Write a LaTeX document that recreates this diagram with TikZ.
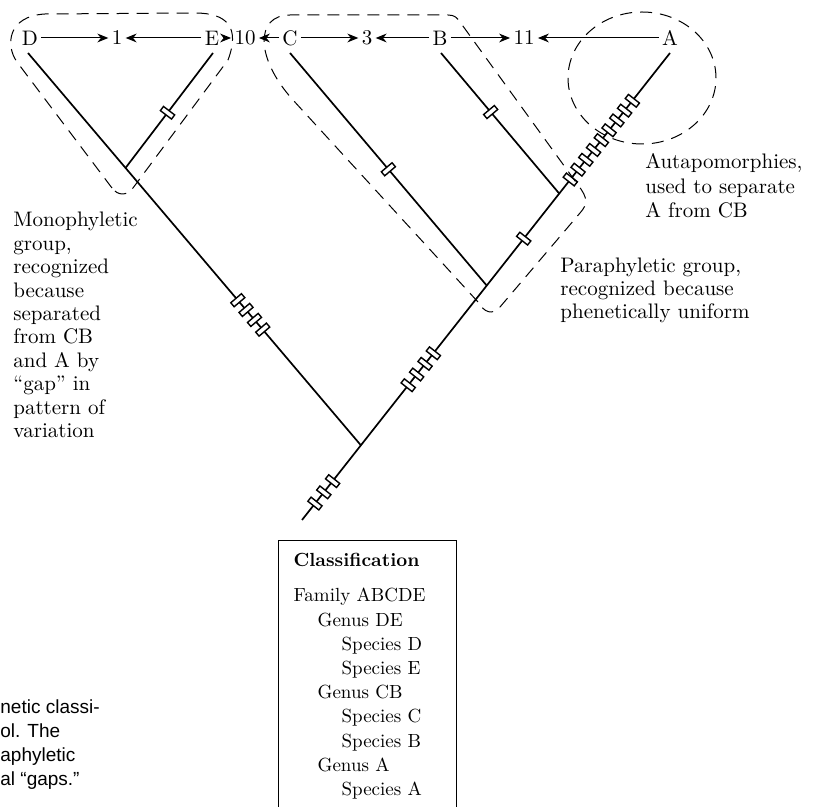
\documentclass[tikz,border=0pt]{standalone}
\usepackage{fontspec}
\newfontfamily\captionfont{Liberation Sans}
\usetikzlibrary{arrows.meta,calc}
\tikzset{
    taxon/.style={
           inner sep=1.5pt,
           font=\fontsize{10.5}{12}\selectfont,
           },
    branch/.style={
           line width=0.85pt,
           },
    apomark/.style={
           rectangle,
           draw, fill=white,
           line width=0.7pt,
           minimum width=2.6pt,
           minimum height=7pt,
           inner sep=0pt,
           sloped,
           },
    grouping/.style={
           dash pattern=on 6pt off 4pt,
           line width=0.5pt,
           },
    note/.style={
           align=left,
           anchor=north west,
           inner sep=0pt,
           font=\fontsize{10.5}{11.7}\selectfont,
           },
}

\begin{document}
\begin{tikzpicture}
[
x=0.5pt, y=-0.5pt,
>={Stealth[length=5.5pt,width=4.4pt]}
]
 \useasboundingbox (0,0) rectangle (815,807);

 % taxa and character states along the top
 \node[taxon] (lD)  at (30,38)  {D};
 \node[taxon] (l1)  at (117,38) {1};
 \node[taxon] (lE)  at (212,38) {E};
 \node[taxon] (l10) at (245,38) {10};
 \node[taxon] (lC)  at (290,38) {C};
 \node[taxon] (l3)  at (367,38) {3};
 \node[taxon] (lB)  at (440,38) {B};
 \node[taxon] (l11) at (524,38) {11};
 \node[taxon] (lA)  at (670,38) {A};

 \path[->, line width=0.5pt]
 (lD) edge (l1)
 (lE) edge (l1)
 (lE) edge (l10)
 (lC) edge (l10)
 (lC) edge (l3)
 (lB) edge (l3)
 (lB) edge (l11)
 (lA) edge (l11)
 ;

 % tips, root and junctions of the tree
 \coordinate (root) at (302,520);
 \coordinate (tA) at (670,53);
 \coordinate (tD) at (28,53);
 \coordinate (tE) at (213,53);
 \coordinate (tC) at (290,53);
 \coordinate (tB) at (441,53);
 \coordinate (jD) at ($(root)!0.16!(tA)$);
 \coordinate (jC) at ($(root)!0.502!(tA)$);
 \coordinate (jB) at ($(root)!0.699!(tA)$);
 \coordinate (jE) at ($(tD)!0.293!(jD)$);

 \draw[branch] (root) -- (tA);
 \draw[branch] (jD) -- (tD);
 \draw[branch] (jE) -- (tE);
 \draw[branch] (jC) -- (tC);
 \draw[branch] (jB) -- (tB);

 % character state changes
 \foreach \p [count=\i] in {0.22,0.37,0.52}
   \path (root) -- (jD) node[apomark, pos=\p] (mR\i) {};
 \foreach \p [count=\i] in {0.376,0.443,0.51,0.576}
   \path (jD) -- (jC) node[apomark, pos=\p] (mDC\i) {};
 \foreach \p [count=\i] in {0.477,0.512,0.548,0.583}
   \path (jE) -- (jD) node[apomark, pos=\p] (mD\i) {};
 \foreach \p [count=\i] in {0.10,0.17,0.24,0.31,0.38,0.45,0.52,0.59,0.66}
   \path (jB) -- (tA) node[apomark, pos=\p] (mA\i) {};
 \path (jC) -- (jB) node[apomark, pos=0.51] (mCB) {};
 \path (tE) -- (jE) node[apomark, pos=0.52] (mE) {};
 \path (tC) -- (jC) node[apomark, pos=0.50] (mC) {};
 \path (tB) -- (jB) node[apomark, pos=0.42] (mB) {};

 % dashed groups
 \draw[grouping] (112,188) -- (17,62)
   .. controls (5,45) and (8,16) .. (45,14) -- (195,13)
   .. controls (228,13) and (240,28) .. (228,60) -- (133,188)
   .. controls (127,196) and (118,196) .. (112,188) -- cycle;
 \draw[grouping] (478,302) -- (293,100)
   .. controls (255,58) and (255,15) .. (290,15) -- (448,15)
   .. controls (455,15) and (457,18) .. (460,22) -- (578,185)
   .. controls (588,198) and (588,204) .. (580,213) -- (500,307)
   .. controls (492,316) and (484,312) .. (478,302) -- cycle;
 \draw[grouping] (642,78) ellipse [x radius=37pt, y radius=33pt];

 % notes
 \node[note] (mono) at (13,212)
 {%
Monophyletic\\group,\\recognized\\because\\separated\\from CB\\and A by\\“gap” in\\pattern of\\variation
 };
 \node[note, font=\fontsize{10.5}{12.3}\selectfont] (autapo) at (645,153)
 {%
Autapomorphies,\\used to separate\\A from CB
 };
 \node[note, font=\fontsize{10.5}{11.5}\selectfont] (para) at (560,258)
 {%
Paraphyletic group,\\recognized because\\phenetically uniform
 };
 \node[note, font=\captionfont\fontsize{9.5}{12}\selectfont] (caption) at (0,699)
 {%
netic classi-\\ol. The\\aphyletic\\al “gaps.”
 };

 % classification box
 \node[draw,
 line width=0.6pt,
 anchor=north west,
 inner xsep=7.5pt,
 inner ysep=6.5pt,
 text width=74pt,
 align=left,
 font=\fontsize{9.5}{12.1}\selectfont] (classbox) at (278,540)
 {%
\textbf{Classification}\\[5.4pt]
Family ABCDE\\
\hspace*{12pt}Genus DE\\
\hspace*{24pt}Species D\\
\hspace*{24pt}Species E\\
\hspace*{12pt}Genus CB\\
\hspace*{24pt}Species C\\
\hspace*{24pt}Species B\\
\hspace*{12pt}Genus A\\
\hspace*{24pt}Species A
 };
\end{tikzpicture}
\end{document}
